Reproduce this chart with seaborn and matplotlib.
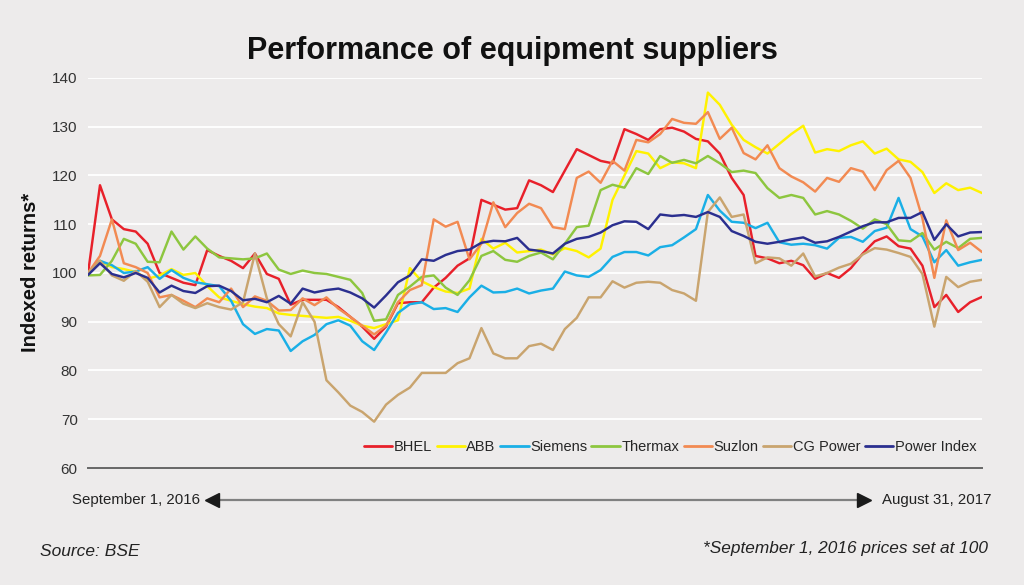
import numpy as np
import pandas as pd
import matplotlib
matplotlib.use("Agg")
import matplotlib.pyplot as plt
from matplotlib.lines import Line2D
import seaborn as sns

# indexed returns (Sep 1 2016 = 100), roughly weekly
bhel = [100, 118, 111, 109, 108.5, 106, 100, 99, 98, 97.5, 104.7, 103.5, 102.5, 101, 104, 99.8,
        98.8, 93.5, 94.5, 94.5, 94.5, 93, 91, 89, 86.5, 89, 93.8, 94, 94, 97, 99, 101.5,
        103, 115, 114, 113, 113.3, 119, 118, 116.6, 121, 125.4, 124.2, 123, 122.5, 129.5, 128.5, 127.3,
        129.5, 129.8, 129, 127.5, 127, 124.5, 119.5, 116, 103.5, 103, 102, 102.5, 101.6, 98.8,
        100, 99, 101, 104, 106.5, 107.5, 105.5, 105, 101.5, 93, 95.5, 92, 94, 95.1]
abb = [100, 102.5, 101.2, 100.8, 100.2, 98.8, 99.5, 100.8, 99.6, 100, 97.3, 95, 94.3, 93.6, 93.1, 92.8,
       91.7, 91.4, 91.2, 91, 90.8, 91, 90.2, 89.2, 88.7, 89.5, 90.3, 101, 98.3, 97.1, 96.2, 95.9,
       96.8, 107, 105, 106.2, 104.2, 104.5, 104.8, 103.8, 105.1, 104.5, 103.2, 105, 115, 120, 125, 124.5,
       121.5, 122.7, 122.5, 121.5, 137, 134.5, 130.4, 127.3, 125.8, 124.5, 126.5, 128.5, 130.2, 124.7,
       125.4, 125, 126.2, 127, 124.5, 125.5, 123.3, 122.8, 120.7, 116.4, 118.4, 117, 117.5, 116.4]
siemens = [100, 102.5, 101.6, 100, 100.3, 101.2, 98.8, 100.6, 99, 98.1, 97.7, 97.3, 94.3, 89.5, 87.5, 88.5,
           88.2, 84, 86, 87.3, 89.5, 90.3, 89.2, 86, 84.2, 87.8, 91.8, 93.6, 94, 92.6, 92.8, 92,
           95, 97.4, 96, 96.1, 96.8, 95.8, 96.4, 96.8, 100.3, 99.5, 99.2, 100.6, 103.3, 104.3, 104.3, 103.6,
           105.3, 105.7, 107.3, 109, 116, 112.8, 110.5, 110.3, 109.2, 110.3, 106.3, 105.8, 106, 105.7,
           105, 107.2, 107.4, 106.4, 108.6, 109.3, 115.4, 109, 107.5, 102.2, 104.7, 101.5, 102.2, 102.7]
thermax = [99.5, 99.6, 102.5, 107, 106, 102.3, 102.2, 108.5, 104.8, 107.5, 105, 103.2, 103, 102.8, 103, 104,
           100.7, 99.8, 100.5, 100, 99.8, 99.2, 98.6, 95.9, 90.2, 90.5, 95.5, 97.2, 99.2, 99.5, 97, 95.5,
           98.5, 103.5, 104.5, 102.7, 102.3, 103.5, 104.2, 102.8, 106, 109.4, 109.7, 117, 118.1, 117.5, 121.5, 120.3,
           124, 122.6, 123.2, 122.5, 124, 122.5, 120.7, 121, 120.5, 117.4, 115.4, 116, 115.4, 112,
           112.7, 112, 110.7, 109.1, 111, 110, 106.7, 106.5, 108.2, 104.8, 106.4, 105.1, 107, 107.2]
suzlon = [100, 103.5, 111, 102, 101.2, 100, 95, 95.5, 94.3, 93, 94.8, 94, 96.8, 93, 95.2, 94.3,
          92.3, 92.4, 94.8, 93.4, 95, 92.7, 91, 89.2, 87.4, 89.2, 94, 96.5, 97.5, 111, 109.5, 110.5,
          102.8, 106, 114.5, 109.4, 112.3, 114.2, 113.3, 109.4, 109, 119.5, 120.8, 118.5, 123, 121, 127.3, 126.8,
          128.5, 131.6, 130.8, 130.6, 133, 127.5, 129.8, 124.6, 123.3, 126.2, 121.5, 119.8, 118.6, 116.7,
          119.5, 118.7, 121.5, 120.8, 117, 121.1, 123, 119.5, 111.2, 99, 110.8, 104.7, 106.2, 104.3]
cg_power = [100, 102.5, 99.5, 98.4, 100.4, 98.2, 93, 95.5, 93.7, 92.8, 93.8, 93, 92.5, 94, 104, 94.8,
            89.5, 87, 94, 90, 78, 75.5, 72.8, 71.5, 69.5, 73, 75, 76.5, 79.5, 79.5, 79.5, 81.5,
            82.5, 88.7, 83.5, 82.5, 82.5, 85, 85.5, 84.2, 88.5, 90.8, 95, 95, 98.3, 97, 98, 98.2,
            98, 96.5, 95.8, 94.3, 112.5, 115.5, 111.5, 112, 102, 103.2, 103, 101.5, 104, 99.3,
            100, 101.1, 101.9, 103.8, 105.1, 104.8, 104.1, 103.3, 99.8, 89, 99.2, 97.1, 98.2, 98.6]
power_index = [99.6, 102, 99.8, 99.1, 100, 99, 96, 97.4, 96.3, 95.9, 97.3, 97.4, 96.3, 94.4, 94.7, 94,
               95.3, 93.7, 96.8, 96, 96.5, 96.8, 96, 94.8, 92.9, 95.4, 98.1, 99.5, 102.8, 102.5, 103.7, 104.5,
               104.8, 106.2, 106.6, 106.5, 107.2, 104.8, 104.5, 104, 106, 107, 107.4, 108.3, 109.8, 110.6, 110.5, 109,
               112, 111.7, 111.9, 111.5, 112.5, 111.5, 108.6, 107.6, 106.4, 106, 106.4, 106.9, 107.3, 106.2,
               106.5, 107.4, 108.5, 109.6, 110.4, 110.4, 111.3, 111.3, 112.5, 106.8, 110, 107.5, 108.3, 108.4]

companies = ["BHEL", "ABB", "Siemens", "Thermax", "Suzlon", "CG Power", "Power Index"]
colors = ["#E8202A", "#FFF200", "#1AAFE6", "#8DC63F", "#F28A52", "#C9A46E", "#2B2F8F"]
yticks = [60, 70, 80, 90, 100, 110, 120, 130, 140]

BG = "#EDEBEB"


def makeFrame():
    '''
    Builds the long table that seaborn wants from the named lists above
    '''
    series = [bhel, abb, siemens, thermax, suzlon, cg_power, power_index]
    dates = pd.date_range("2016-09-01", "2017-08-31", periods=len(bhel))
    parts = []
    for name, vals in zip(companies, series):
        parts.append(pd.DataFrame({"date": dates, "value": vals, "company": name}))
    return pd.concat(parts, ignore_index=True), dates


def px(y):
    # pixel row (from top) -> figure fraction
    return 1 - y / 585


def plotChart(df, dates):
    sns.set_theme(style="white")
    plt.rcParams["font.family"] = ["Liberation Sans", "DejaVu Sans"]

    fig = plt.figure(figsize=(10.24, 5.85), dpi=100, facecolor=BG)
    ax = fig.add_axes([0.086, 0.2, 0.873, 0.6667])
    ax.set_facecolor(BG)

    sns.lineplot(data=df, x="date", y="value", hue="company", hue_order=companies,
                 palette=colors, linewidth=1.75, ax=ax)

    ax.set_ylim(60, 140)
    ax.set_xlim(dates[0], dates[-1])
    ax.set_yticks(yticks)
    ax.set_yticklabels([str(t) for t in yticks], fontsize=11, color="#333333")
    ax.set_xticks([])
    ax.set_xlabel("")
    ax.set_ylabel("")
    ax.tick_params(axis="y", length=0, pad=7.5)

    ax.yaxis.grid(True, color="white", linewidth=1.3)
    ax.set_axisbelow(True)
    for s in ["top", "right", "left"]:
        ax.spines[s].set_visible(False)
    ax.spines["bottom"].set_color("#666666")
    ax.spines["bottom"].set_linewidth(1.4)

    leg = ax.legend(loc="center right", bbox_to_anchor=(1.0, 0.054), ncol=7, frameon=False,
                    fontsize=10.5, handlelength=1.95, handletextpad=0.1, columnspacing=0.3,
                    borderaxespad=0)
    for line in leg.get_lines():
        line.set_linewidth(2)

    fig.text(0.5, px(58.5), "Performance of equipment suppliers", ha="center", va="baseline",
             fontsize=22, fontweight="bold", color="#111111")
    fig.text(31 / 1024, px(272), "Indexed returns*", rotation=90, ha="center", va="center",
             fontsize=14.5, fontweight="bold", color="#111111")

    # date range arrow under the axis
    ya = px(500)
    fig.text(72 / 1024, ya, "September 1, 2016", ha="left", va="center", fontsize=10.8, color="#222222")
    fig.text(992 / 1024, ya, "August 31, 2017", ha="right", va="center", fontsize=10.8, color="#222222")
    fig.add_artist(Line2D([212 / 1024, 864 / 1024], [ya, ya], transform=fig.transFigure,
                          color="#808080", linewidth=1.6))
    fig.add_artist(Line2D([212 / 1024], [ya], transform=fig.transFigure, marker="<",
                          markersize=10.5, color="#1a1a1a", linestyle="none"))
    fig.add_artist(Line2D([864 / 1024], [ya], transform=fig.transFigure, marker=">",
                          markersize=10.5, color="#1a1a1a", linestyle="none"))

    fig.text(40 / 1024, px(552), "Source: BSE", ha="left", va="center", fontsize=12.5,
             style="italic", color="#222222")
    fig.text(988 / 1024, px(549), "*September 1, 2016 prices set at 100", ha="right", va="center",
             fontsize=12.4, style="italic", color="#222222")

    fig.savefig("out.png", dpi=100, facecolor=BG)


df, dates = makeFrame()
plotChart(df, dates)
